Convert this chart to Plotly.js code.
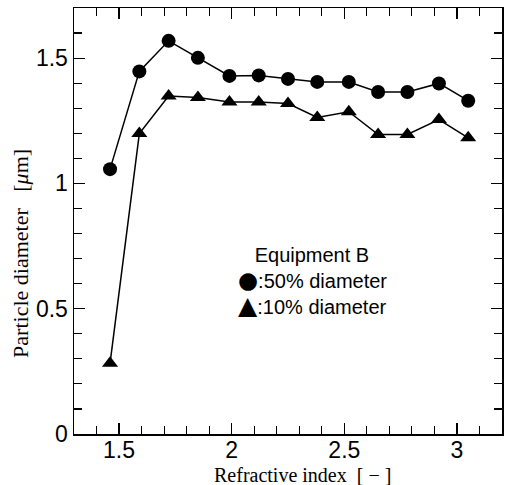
<!DOCTYPE html>
<html>
<head>
<meta charset="utf-8">
<script src="https://cdn.plot.ly/plotly-3.0.1.min.js"></script>
<style>html,body{margin:0;padding:0;background:#fff;}#chart{width:507px;height:485px;}</style>
</head>
<body>
<div id="chart"></div>
<script>
const refractiveIndex = [1.46, 1.59, 1.72, 1.85, 1.99, 2.12, 2.25, 2.38, 2.52, 2.65, 2.78, 2.92, 3.05];
const d50 = [1.057, 1.447, 1.569, 1.501, 1.429, 1.431, 1.417, 1.405, 1.405, 1.365, 1.365, 1.399, 1.33];
const d10 = [0.282, 1.199, 1.349, 1.343, 1.325, 1.325, 1.319, 1.263, 1.286, 1.195, 1.195, 1.255, 1.182];
const xTitle = 'Refractive index\u00a0\u00a0[\u00a0−\u00a0]';
const yTitle = 'Particle diameter\u00a0\u00a0\u00a0[<i>μ</i>m]';
const legendTitle = 'Equipment B';
const legendLabels = [':50% diameter', ':10% diameter'];
const legendGlyphs = ['●', '▲'];

const sans = 'Liberation Sans, Arial, Helvetica, sans-serif';
const serif = 'Liberation Serif, Times New Roman, serif';

const traces = [
  {x: refractiveIndex, y: d50, mode: 'lines+markers', type: 'scatter',
   line: {color: '#000', width: 1.5},
   marker: {symbol: 'circle', size: 14, color: '#000'}},
  {x: refractiveIndex, y: d10, mode: 'lines+markers', type: 'scatter',
   line: {color: '#000', width: 1.5},
   marker: {symbol: 'triangle-up', size: 14, color: '#000'}}
];

const axisCommon = {
  showgrid: false, zeroline: false, showline: true, linecolor: '#000', linewidth: 1.5,
  mirror: 'allticks', ticks: 'inside', ticklen: 11, tickwidth: 1.2, tickcolor: '#000',
  tickfont: {family: sans, size: 23, color: '#000'}
};
const minorCommon = {ticks: 'inside', ticklen: 8, tickwidth: 1.2, tickcolor: '#000'};

const glyph = (g, size) => '<span style="font-family:DejaVu Sans;font-size:' + size + 'px">' + g + '</span>';
const legendText = '\u00a0\u00a0\u00a0' + legendTitle + '<br>' +
  glyph(legendGlyphs[0], 23) + legendLabels[0] + '<br>' +
  glyph(legendGlyphs[1], 25) + legendLabels[1];

const layout = {
  width: 507, height: 485,
  margin: {l: 74, r: 5, t: 8, b: 51},
  paper_bgcolor: '#fff', plot_bgcolor: '#fff',
  showlegend: false,
  xaxis: Object.assign({}, axisCommon, {
    range: [1.3, 3.2], dtick: 0.5, tick0: 0, ticklabelstandoff: -5,
    minor: Object.assign({dtick: 0.1, tick0: 0}, minorCommon)
  }),
  yaxis: Object.assign({}, axisCommon, {
    range: [0, 1.7], dtick: 0.5, tick0: 0,
    minor: Object.assign({dtick: 0.1, tick0: 0}, minorCommon)
  }),
  annotations: [
    {text: xTitle, xref: 'paper', yref: 'paper', x: 0.533, y: -0.096, xanchor: 'center', yanchor: 'middle', showarrow: false, font: {family: serif, size: 20, color: '#000'}},
    {text: yTitle, xref: 'paper', yref: 'paper', x: -0.124, y: 0.425, xanchor: 'center', yanchor: 'middle', textangle: -90, showarrow: false, font: {family: serif, size: 22, color: '#000'}},
    {text: legendText, xref: 'paper', yref: 'paper', x: 0.379, y: 0.357, xanchor: 'left', yanchor: 'middle', align: 'left', showarrow: false, font: {family: sans, size: 20, color: '#000'}}
  ]
};

Plotly.newPlot('chart', traces, layout, {displayModeBar: false, staticPlot: true});
</script>
</body>
</html>
